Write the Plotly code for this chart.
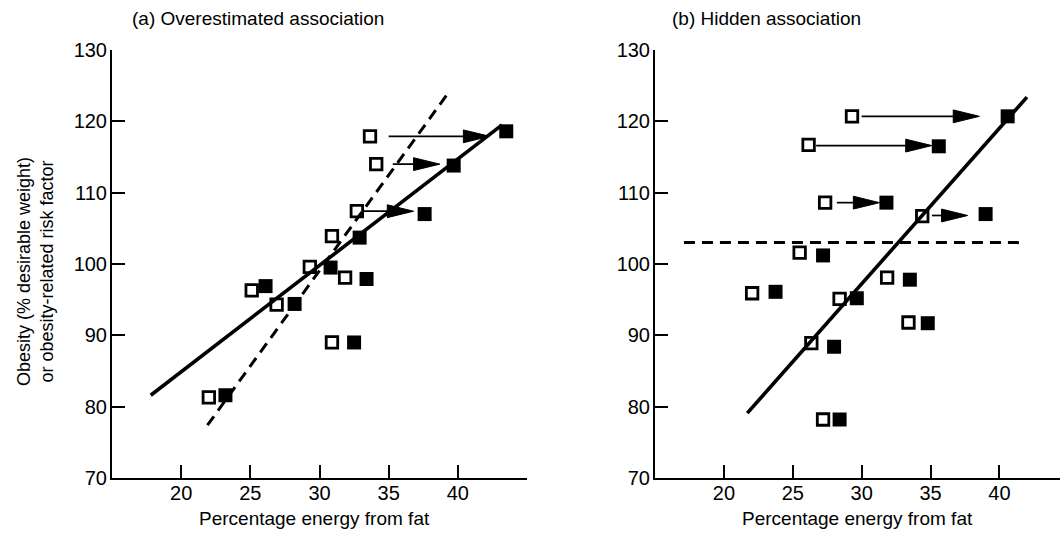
import plotly.graph_objects as go

# ---------------- data: panel (a) Overestimated association ----------------
a_open_x = [22.0, 25.1, 26.9, 29.3, 31.85, 30.9, 30.9, 32.7, 34.1, 33.65]
a_open_y = [81.3, 96.3, 94.3, 99.6, 98.1, 89.0, 103.9, 107.4, 114.0, 117.9]
a_fill_x = [23.2, 26.1, 28.2, 30.8, 33.4, 32.5, 32.9, 37.6, 39.7, 43.5]
a_fill_y = [81.6, 96.9, 94.4, 99.5, 97.9, 89.0, 103.7, 107.0, 113.8, 118.6]
a_arrow_y = [107.4, 114.0, 117.9]
a_arrow_start = [33.1, 35.3, 35.0]
a_arrow_tip = [36.8, 38.7, 42.3]
a_solid_x = [17.8, 43.2]
a_solid_y = [81.6, 119.5]
a_dash_x = [21.9, 39.2]
a_dash_y = [77.4, 123.7]

# ---------------- data: panel (b) Hidden association ----------------
b_open_x = [22.05, 25.5, 28.4, 31.85, 33.4, 26.35, 27.2, 29.3, 26.15, 27.35, 34.4]
b_open_y = [95.9, 101.6, 95.1, 98.1, 91.8, 88.9, 78.2, 120.7, 116.7, 108.6, 106.7]
b_fill_x = [23.75, 27.2, 29.65, 33.5, 34.8, 28.0, 28.4, 40.6, 35.6, 31.8, 39.0]
b_fill_y = [96.1, 101.2, 95.2, 97.8, 91.7, 88.4, 78.2, 120.7, 116.5, 108.6, 107.0]
b_arrow_y = [120.7, 116.6, 108.6, 106.8]
b_arrow_start = [30.0, 26.7, 28.2, 35.1]
b_arrow_tip = [38.55, 35.1, 31.3, 37.7]
b_solid_x = [21.7, 42.0]
b_solid_y = [79.1, 123.4]
b_dash_x = [17.1, 41.9]
b_dash_y = [103.0, 103.0]

x_tickvals = [15, 20, 25, 30, 35, 40, 45]
x_ticktext = ["", "20", "25", "30", "35", "40", ""]
y_tickvals = [70, 80, 90, 100, 110, 120, 130]

# ---------------- style ----------------
FONT = "Liberation Sans, Arial, Helvetica, sans-serif"
HEAD_LEN = 1.9    # arrowhead length (x units)
HEAD_HALF = 0.9   # arrowhead half width (y units)

fig = go.Figure()


def add_panel(xa, ya, open_x, open_y, fill_x, fill_y, ar_y, ar_s, ar_t,
              sx, sy, dx, dy):
    fig.add_trace(go.Scatter(x=dx, y=dy, mode="lines", xaxis=xa, yaxis=ya,
                             line=dict(color="black", width=3, dash="11px,7px"),
                             hoverinfo="skip"))
    fig.add_trace(go.Scatter(x=sx, y=sy, mode="lines", xaxis=xa, yaxis=ya,
                             line=dict(color="black", width=3.6),
                             hoverinfo="skip"))
    lx, ly = [], []
    for y, s, t in zip(ar_y, ar_s, ar_t):
        lx += [s, t - HEAD_LEN * 0.5, None]
        ly += [y, y, None]
    fig.add_trace(go.Scatter(x=lx, y=ly, mode="lines", xaxis=xa, yaxis=ya,
                             line=dict(color="black", width=1.7),
                             hoverinfo="skip"))
    hx, hy = [], []
    for y, t in zip(ar_y, ar_t):
        hx += [t, t - HEAD_LEN, t - HEAD_LEN, t, None]
        hy += [y, y + HEAD_HALF, y - HEAD_HALF, y, None]
    fig.add_trace(go.Scatter(x=hx, y=hy, mode="lines", fill="toself",
                             fillcolor="black", xaxis=xa, yaxis=ya,
                             line=dict(color="black", width=1),
                             hoverinfo="skip"))
    fig.add_trace(go.Scatter(x=open_x, y=open_y, mode="markers", xaxis=xa, yaxis=ya,
                             marker=dict(symbol="square-open", size=11.5, color="black",
                                         line=dict(width=2.8, color="black"))))
    fig.add_trace(go.Scatter(x=fill_x, y=fill_y, mode="markers", xaxis=xa, yaxis=ya,
                             marker=dict(symbol="square", size=14, color="black",
                                         line=dict(width=0))))


add_panel("x", "y", a_open_x, a_open_y, a_fill_x, a_fill_y,
          a_arrow_y, a_arrow_start, a_arrow_tip, a_solid_x, a_solid_y, a_dash_x, a_dash_y)
add_panel("x2", "y2", b_open_x, b_open_y, b_fill_x, b_fill_y,
          b_arrow_y, b_arrow_start, b_arrow_tip, b_solid_x, b_solid_y, b_dash_x, b_dash_y)

common_x = dict(tickvals=x_tickvals, ticktext=x_ticktext, ticks="inside", ticklen=13,
                tickwidth=2, tickcolor="black", showline=True, linewidth=2,
                linecolor="black", showgrid=False, zeroline=False,
                tickfont=dict(family=FONT, size=20, color="black"),
                ticklabelstandoff=-4)
common_y = dict(tickvals=y_tickvals, range=[70, 130], ticks="inside", ticklen=13,
                tickwidth=2, tickcolor="black", showline=True, linewidth=2,
                linecolor="black", showgrid=False, zeroline=False,
                tickfont=dict(family=FONT, size=20, color="black"),
                ticklabelstandoff=-1)

L, R, T, B = 112, 0, 50, 55
PW = 1060 - L - R
PH = 533 - T - B


def px_x(p):
    return (p - L) / PW


def px_y(p):
    return (533 - B - p) / PH


fig.update_layout(
    width=1060, height=533,
    margin=dict(l=L, r=R, t=T, b=B),
    paper_bgcolor="white", plot_bgcolor="white",
    showlegend=False,
    xaxis=dict(domain=[0, px_x(527)], range=[15, 45], anchor="y", **common_x),
    xaxis2=dict(domain=[px_x(655), 1], range=[15, 44.4], anchor="y2", **common_x),
    yaxis=dict(domain=[0, 1], anchor="x", **common_y),
    yaxis2=dict(domain=[0, 1], anchor="x2", **common_y),
    font=dict(family=FONT, color="black"),
    annotations=[
        dict(text="(a) Overestimated association", xref="paper", yref="paper",
             x=px_x(130), y=px_y(19), xanchor="left", yanchor="middle",
             showarrow=False, font=dict(size=19)),
        dict(text="(b) Hidden association", xref="paper", yref="paper",
             x=px_x(670), y=px_y(19), xanchor="left", yanchor="middle",
             showarrow=False, font=dict(size=19)),
        dict(text="Percentage energy from fat", xref="paper", yref="paper",
             x=px_x(314), y=px_y(518), xanchor="center", yanchor="middle",
             showarrow=False, font=dict(size=19)),
        dict(text="Percentage energy from fat", xref="paper", yref="paper",
             x=px_x(857), y=px_y(518), xanchor="center", yanchor="middle",
             showarrow=False, font=dict(size=19)),
        dict(text="Obesity (% desirable weight)<br>or obesity-related risk factor",
             xref="paper", yref="paper", x=px_x(35), y=px_y(272),
             xanchor="center", yanchor="middle", textangle=-90,
             showarrow=False, font=dict(size=18)),
    ],
)

fig.write_html("out.html", post_script="document.body.style.margin='0';",
               config={"displayModeBar": False, "staticPlot": True})
